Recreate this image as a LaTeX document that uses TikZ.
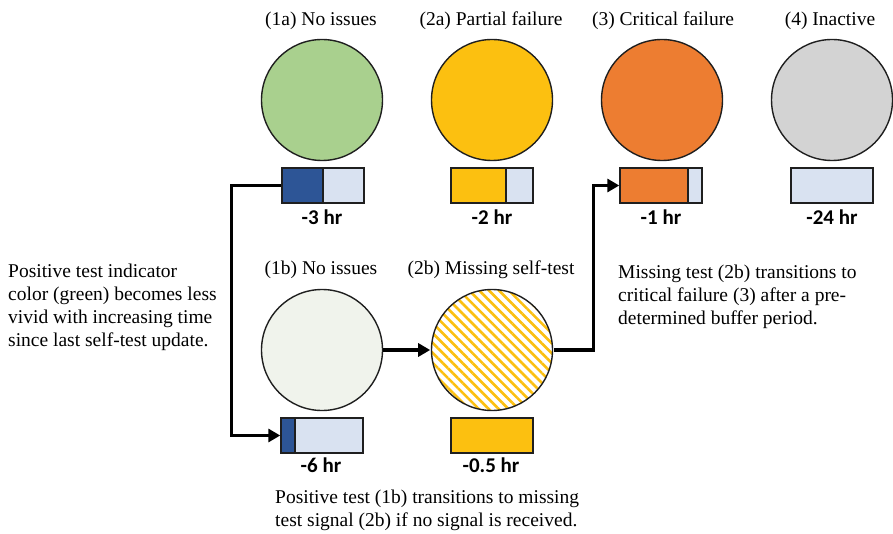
\documentclass[tikz,border=0pt]{standalone}
\usepackage{fontspec}
\setmainfont{Liberation Serif}
\newfontfamily\lblfont{Carlito}
\usetikzlibrary{arrows.meta,patterns.meta,calc}

\definecolor{okgreen}{HTML}{A9D08E}
\definecolor{warnyellow}{HTML}{FCC010}
\definecolor{critorange}{HTML}{ED7D31}
\definecolor{offgray}{HTML}{D3D3D3}
\definecolor{barblue}{HTML}{D9E2F1}
\definecolor{darkblue}{HTML}{2D5596}
\definecolor{paleok}{HTML}{F0F3EC}
\definecolor{edge}{HTML}{1F1F1F}

\tikzset{
  lamp/.style={circle, draw=edge, line width=1.4pt, minimum size=121pt, inner sep=0pt},
  timebar/.style n args={2}{rectangle, draw=edge, line width=1.4pt,
    minimum width=82pt, minimum height=35pt, inner sep=0pt, fill=barblue,
    path picture={\draw[edge, line width=1.4pt, fill=#1]
      (path picture bounding box.south west) rectangle
      ($(path picture bounding box.north west)+(#2,0)$);}},
  title/.style={font=\rmfamily\fontsize{19.5}{23}\selectfont, inner sep=0pt},
  hours/.style={font=\lblfont\bfseries\fontsize{21}{24}\selectfont, inner sep=0pt},
  note/.style={font=\rmfamily\fontsize{19.5}{23}\selectfont, align=left, inner sep=0pt, anchor=west},
  conn/.style={line width=3.6pt, draw=black, line join=miter,
    -{Triangle[length=12pt,width=13pt]}},
}

\begin{document}
\begin{tikzpicture}[x=1pt, y=-1pt]
  \useasboundingbox (0,0) rectangle (893,534);

  % status titles
  \node[title] (h1a) at (321,21) {(1a) No issues};
  \node[title] (h2a) at (491,21) {(2a) Partial failure};
  \node[title] (h3)  at (663,21) {(3) Critical failure};
  \node[title] (h4)  at (830,21) {(4) Inactive};
  \node[title] (h1b) at (321,270) {(1b) No issues};
  \node[title] (h2b) at (491,270) {(2b) Missing self-test};

  % status lamps
  \node[lamp, fill=okgreen]    (c1a) at (322,100) {};
  \node[lamp, fill=warnyellow] (c2a) at (492,100) {};
  \node[lamp, fill=critorange] (c3)  at (662,100) {};
  \node[lamp, fill=offgray]    (c4)  at (832,100) {};
  \node[lamp, fill=paleok]     (c1b) at (322,350) {};
  \node[lamp, preaction={fill=white}, pattern={Lines[angle=-45,distance=7pt,line width=2.6pt]},
        pattern color=warnyellow] (c2b) at (492,350) {};

  % elapsed-time bars
  \node[timebar={darkblue}{41}]   (b1a) at (323,185.5) {};
  \node[timebar={warnyellow}{55}] (b2a) at (492,185.5) {};
  \node[timebar={critorange}{68}] (b3)  at (661,185.5) {};
  \node[timebar={barblue}{0}]     (b4)  at (832,185.5) {};
  \node[timebar={darkblue}{14}]   (b1b) at (322,435.5) {};
  \node[timebar={warnyellow}{82}] (b2b) at (492,435.5) {};

  % elapsed-time labels
  \node[hours] (t1a) at (322,217) {-3 hr};
  \node[hours] (t2a) at (492,217) {-2 hr};
  \node[hours] (t3)  at (661,217) {-1 hr};
  \node[hours] (t4)  at (832,217) {-24 hr};
  \node[hours] (t1b) at (321,465) {-6 hr};
  \node[hours] (t2b) at (491,465) {-0.5 hr};

  % explanatory notes
  \node[note] (n1) at (8,307.5) {Positive test indicator\\color (green) becomes less\\vivid with increasing time\\since last self-test update.};
  \node[note] (n2) at (618,297) {Missing test (2b) transitions to\\critical failure (3) after a pre-\\determined buffer period.};
  \node[note] (n3) at (275,510.5) {Positive test (1b) transitions to missing\\test signal (2b) if no signal is received.};

  % transitions
  \draw[conn] (b1a.west) -- ++(-50,0) |- (b1b.west);
  \draw[conn] (c1b.east) -- (c2b.west);
  \draw[conn] (c2b.east) -| ([xshift=-26pt]b3.west) -- (b3.west);
\end{tikzpicture}
\end{document}
